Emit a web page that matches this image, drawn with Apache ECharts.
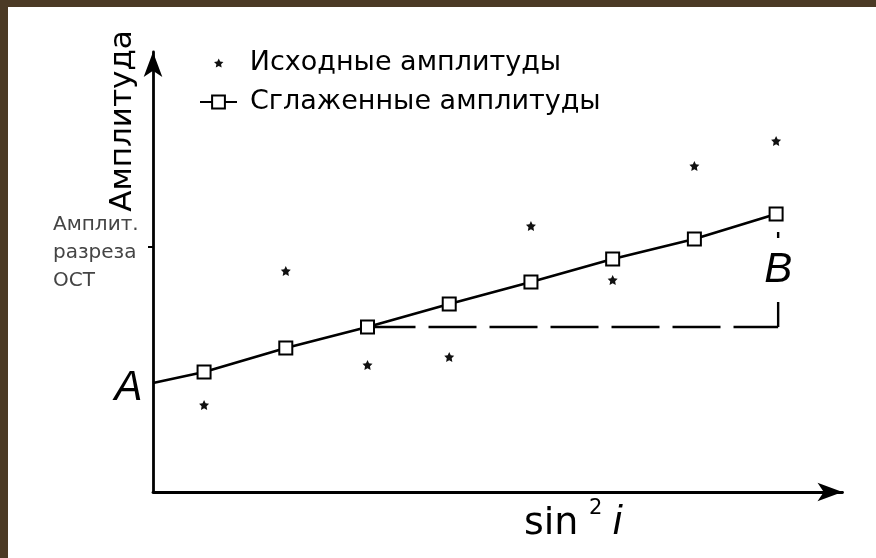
<!DOCTYPE html>
<html>
<head>
<meta charset="utf-8">
<script src="https://cdn.jsdelivr.net/npm/echarts@6/dist/echarts.min.js"></script>
<style>
  html, body { margin: 0; padding: 0; background: #fff; }
  #chart { width: 876px; height: 558px; }
</style>
</head>
<body>
<div id="chart"></div>
<script>
// sin^2 i positions of the gathers
const sin2i = [0.05, 0.13, 0.21, 0.29, 0.37, 0.45, 0.53, 0.61];
// raw amplitudes picked from the gathers
const rawAmplitudes = [0.87, 2.21, 1.27, 1.35, 2.66, 2.12, 3.26, 3.51];
// smoothed (fitted) amplitudes
const smoothAmplitudes = [1.20, 1.44, 1.65, 1.88, 2.10, 2.33, 2.53, 2.78];
// intercept A at sin^2 i = 0
const interceptA = 1.09;
// stacked-section amplitude level marked on the vertical axis
const ostAmplitude = 2.45;
// gradient construction: horizontal from the third point, vertical at the last one
const gradientBaseIndex = 2;
const gradientX = 0.612;
const gradientTop = 2.60;
const labelB = 2.22;

const seriesNames = ['Исходные амплитуды', 'Сглаженные амплитуды'];
const ostLines = ['Амплит.', 'разреза', 'ОСТ'];
const ink = '#000';

const starPath = 'path://M0,-10L2.9,-4L9.5,-3.1L4.7,1.5L5.9,8.1L0,5L-5.9,8.1L-4.7,1.5L-9.5,-3.1L-2.9,-4Z';

const rawData = sin2i.map((x, i) => [x, rawAmplitudes[i]]);
const smoothData = [{ value: [0, interceptA], symbol: 'none' }]
  .concat(sin2i.map((x, i) => [x, smoothAmplitudes[i]]));
const baseY = smoothAmplitudes[gradientBaseIndex];

const letterFont = { fontFamily: 'Liberation Sans', fontStyle: 'italic', fontSize: 42, color: ink, opacity: 1 };
const legendText = { fontFamily: 'DejaVu Sans', fontSize: 27, color: ink, lineHeight: 28 };

const chart = echarts.init(document.getElementById('chart'), null, { renderer: 'canvas' });

chart.setOption({
  animation: false,
  backgroundColor: '#fff',
  grid: { left: 153, right: 33.5, top: 52, bottom: 66, containLabel: false },
  xAxis: {
    type: 'value', min: 0, max: 0.675,
    axisLine: { show: true, onZero: true, symbol: ['none', 'arrow'], symbolSize: [14, 25],
      lineStyle: { color: ink, width: 2.8 } },
    axisTick: { show: false }, axisLabel: { show: false }, splitLine: { show: false }
  },
  yAxis: {
    type: 'value', min: 0, max: 4.4,
    axisLine: { show: true, symbol: ['none', 'arrow'], symbolSize: [14, 25],
      lineStyle: { color: ink, width: 2.8 } },
    axisTick: { show: true, customValues: [ostAmplitude], length: 5, lineStyle: { color: ink, width: 2 } },
    axisLabel: {
      show: true, customValues: [ostAmplitude],
      formatter: () => '{g| }\n' + ostLines.map(s => '{t|' + s + '}').join('\n'),
      align: 'left', margin: 100,
      rich: {
        g: { fontSize: 1, lineHeight: 12 },
        t: { fontFamily: 'DejaVu Sans', fontSize: 20, lineHeight: 28, color: '#444' }
      }
    },
    splitLine: { show: false }
  },
  legend: [
    {
      data: [seriesNames[0]], orient: 'vertical', left: 209, top: 44, padding: 5,
      itemWidth: 52, itemHeight: 9, itemGap: 0, textStyle: legendText
    },
    {
      data: [seriesNames[1]], orient: 'vertical', left: 194, top: 83, padding: 5,
      itemWidth: 37, itemHeight: 16, itemGap: 0, textStyle: Object.assign({ padding: [0, 0, 0, 8] }, legendText)
    }
  ],
  graphic: [
    { type: 'rect', shape: { x: 0, y: 0, width: 876, height: 7 }, style: { fill: '#4b3a25' }, z: 100 },
    { type: 'rect', shape: { x: 0, y: 0, width: 8, height: 558 }, style: { fill: '#4b3a25' }, z: 100 },
    {
      type: 'text', x: 123, y: 121, rotation: Math.PI / 2,
      style: { text: 'Амплитуда', fontFamily: 'DejaVu Sans', fontSize: 31, fill: ink,
        align: 'center', verticalAlign: 'middle' }
    },
    {
      type: 'text', x: 524, y: 543,
      style: { text: 'sin', fontFamily: 'DejaVu Sans', fontSize: 38, fill: ink,
        align: 'left', verticalAlign: 'bottom' }
    },
    {
      type: 'text', x: 589, y: 519,
      style: { text: '2', fontFamily: 'DejaVu Sans', fontSize: 21, fill: ink,
        align: 'left', verticalAlign: 'bottom' }
    },
    {
      type: 'text', x: 613, y: 543,
      style: { text: 'i', fontFamily: 'Liberation Sans', fontStyle: 'italic', fontSize: 40, fill: ink,
        align: 'left', verticalAlign: 'bottom' }
    }
  ],
  series: [
    {
      // horizontal dashed leg of the gradient construction
      type: 'line', silent: true, symbol: 'none', z: 1,
      data: [[sin2i[gradientBaseIndex], baseY], [gradientX, baseY]],
      lineStyle: { color: ink, width: 2.4, type: [48, 13] }
    },
    {
      // vertical leg of the gradient construction
      type: 'line', silent: true, symbol: 'none', z: 1,
      data: [[gradientX, baseY], [gradientX, gradientTop]],
      lineStyle: { color: ink, width: 2.4 }
    },
    {
      name: seriesNames[0], type: 'scatter', z: 3,
      symbol: starPath, symbolSize: 10,
      itemStyle: { color: '#111', opacity: 1 },
      data: rawData
    },
    {
      name: seriesNames[1], type: 'line', z: 4,
      symbol: 'rect', symbolSize: 13,
      itemStyle: { color: '#fff', borderColor: ink, borderWidth: 2 },
      lineStyle: { color: ink, width: 2.8 },
      data: smoothData
    },
    {
      // letter labels A and B
      type: 'scatter', silent: true, z: 5,
      symbolSize: 1, itemStyle: { color: 'rgba(0,0,0,0)', opacity: 1 },
      data: [
        { value: [0, interceptA],
          label: Object.assign({ show: true, formatter: 'A', position: 'left', distance: 11, offset: [1, 5] }, letterFont) },
        { value: [gradientX, labelB],
          label: Object.assign({ show: true, formatter: 'B', position: 'inside',
            backgroundColor: '#fff', padding: [11, 4, 11, 4] }, letterFont) }
      ]
    }
  ]
});
</script>
</body>
</html>
